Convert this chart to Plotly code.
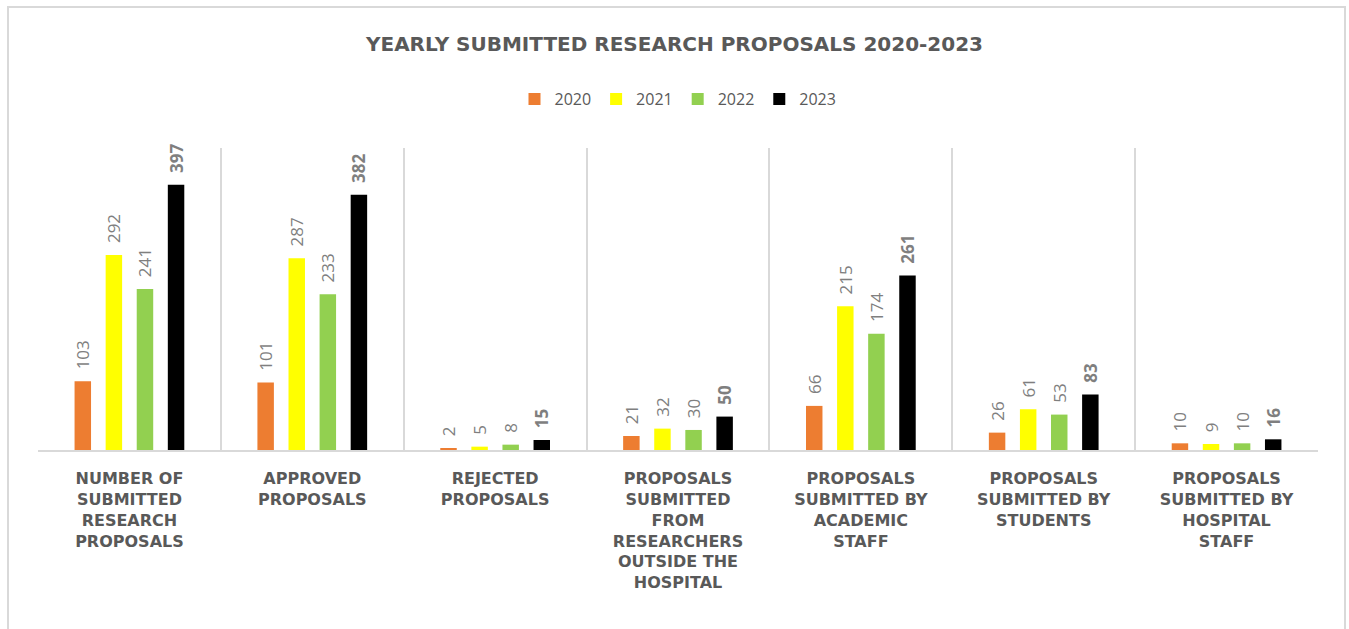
import plotly.graph_objects as go

categories = [
    "NUMBER OF<br>SUBMITTED<br>RESEARCH<br>PROPOSALS",
    "APPROVED<br>PROPOSALS",
    "REJECTED<br>PROPOSALS",
    "PROPOSALS<br>SUBMITTED<br>FROM<br>RESEARCHERS<br>OUTSIDE THE<br>HOSPITAL",
    "PROPOSALS<br>SUBMITTED BY<br>ACADEMIC<br>STAFF",
    "PROPOSALS<br>SUBMITTED BY<br>STUDENTS",
    "PROPOSALS<br>SUBMITTED BY<br>HOSPITAL<br>STAFF",
]
years = ["2020", "2021", "2022", "2023"]
values_2020 = [103, 101, 2, 21, 66, 26, 10]
values_2021 = [292, 287, 5, 32, 215, 61, 9]
values_2022 = [241, 233, 8, 30, 174, 53, 10]
values_2023 = [397, 382, 15, 50, 261, 83, 16]
series = [values_2020, values_2021, values_2022, values_2023]
colors = ["#ED7D31", "#FFFF00", "#92D050", "#000000"]

PAD = "\u00a0\u00a0"

fig = go.Figure()
for yr, vals, col in zip(years, series, colors):
    bold = (yr == "2023")
    fig.add_trace(go.Bar(
        name=yr,
        x=categories,
        y=vals,
        marker=dict(color=col, line=dict(width=0)),
        text=vals,
        texttemplate=PAD + ("<b>%{y}</b>" if bold else "%{y}"),
        textposition="outside",
        textangle=-90,
        constraintext="none",
        cliponaxis=False,
        textfont=dict(family="Open Sans", size=17, color="#7f7f7f"),
    ))

fig.update_layout(
    width=1349, height=629,
    paper_bgcolor="white", plot_bgcolor="white",
    margin=dict(l=38, r=31, t=148, b=179),
    barmode="group",
    bargap=0.32,
    bargroupgap=0.47,
    title=dict(
        text="<b>YEARLY SUBMITTED RESEARCH PROPOSALS 2020-2023</b>",
        x=0.5, xanchor="center", y=1 - 44 / 629, yanchor="middle",
        font=dict(family="DejaVu Sans", size=20, color="#595959"),
    ),
    legend=dict(
        orientation="h", x=0.5, xanchor="center", y=1.162, yanchor="middle",
        font=dict(family="Open Sans", size=16, color="#595959"),
        traceorder="normal",
    ),
    showlegend=True,
)
fig.update_xaxes(
    tickson="boundaries", showgrid=True, gridcolor="#d9d9d9", gridwidth=1.5,
    showline=True, linecolor="#d9d9d9", linewidth=2,
    ticks="", ticklabelstandoff=13,
    tickfont=dict(family="DejaVu Sans", size=16, color="#595959",
                  weight="bold"),
    tickangle=0,
)
fig.update_yaxes(range=[0, 452], showgrid=False, showticklabels=False,
                 zeroline=False, showline=False)

fig.add_shape(type="rect", xref="paper", yref="paper",
              x0=(8 - 38) / 1280, x1=(1345 - 38) / 1280,
              y0=(450 - 700) / 302, y1=(450 - 7) / 302,
              line=dict(color="#d9d9d9", width=2), fillcolor="rgba(0,0,0,0)",
              layer="below")

fig.write_html("out.html", config={"displayModeBar": False},
               post_script="document.body.style.margin='0';")
